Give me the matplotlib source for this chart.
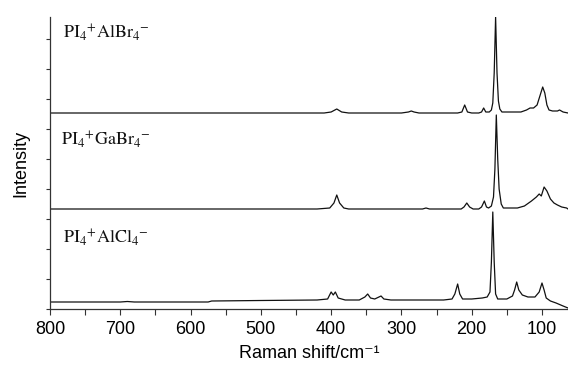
import matplotlib
matplotlib.use("Agg")
import matplotlib.pyplot as plt
import numpy as np

# Spectra: (Raman shift / cm-1, intensity above each trace's baseline, arbitrary units)
albr4_x = [800, 700, 600, 500, 410, 400, 392, 385, 375, 300, 290, 286, 282, 275,
           220, 214, 210, 206, 200, 190, 186, 183, 180, 175, 172, 170, 168, 166, 164,
           162, 160, 157, 130, 122, 117, 112, 107, 103, 99, 96, 93, 90, 85, 78, 75, 70, 63]
albr4_y = [0, 0, 0, 0, 0, 1, 4, 1, 0, 0, 1, 2, 1, 0,
           0, 1, 8, 1, 0, 0, 1, 5, 1, 1, 3, 10, 40, 96, 40,
           12, 4, 1, 1, 3, 5, 5, 8, 17, 26, 20, 8, 3, 2, 2, 3, 1, 0]

gabr4_x = [800, 700, 600, 500, 420, 402, 396, 392, 388, 382, 375, 270, 265, 260,
           215, 211, 207, 203, 198, 190, 186, 182, 179, 176, 172, 169, 167, 165, 163,
           161, 158, 155, 135, 125, 115, 108, 104, 101, 97, 93, 88, 83, 78, 72, 65, 63]
gabr4_y = [0, 0, 0, 0, 0, 1, 6, 14, 6, 1, 0, 0, 1, 0,
           0, 2, 6, 2, 0, 0, 2, 8, 2, 1, 3, 12, 40, 94, 50,
           20, 5, 1, 1, 3, 8, 12, 15, 13, 22, 18, 10, 6, 4, 2, 1, 0]

alcl4_x = [800, 700, 690, 680, 600, 575, 570, 500, 420, 405, 400, 397, 394, 390,
           380, 360, 352, 348, 344, 338, 332, 329, 325, 315, 240, 228, 224, 220,
           217, 213, 200, 185, 178, 174, 172, 170, 168, 166, 163, 150, 142, 139,
           136, 133, 128, 120, 110, 104, 100, 97, 94, 88, 80, 70, 63]
alcl4_y = [0, 0, 0.5, 0, 0, 0, 1, 1.5, 2, 3, 10, 7, 10, 4,
           2, 2, 5, 8, 4, 3, 5, 6, 3, 2, 2, 3, 8, 18,
           8, 3, 3, 4, 5, 10, 40, 90, 40, 8, 3, 3, 6, 12,
           20, 12, 7, 5, 5, 10, 19, 12, 4, 1, -1, -4, -6]

names = ["PI$_4$$^{+}$AlBr$_4$$^{-}$", "PI$_4$$^{+}$GaBr$_4$$^{-}$", "PI$_4$$^{+}$AlCl$_4$$^{-}$"]
offsets = [196, 100, 7]
xticks = [800, 700, 600, 500, 400, 300, 200, 100]

plt.rcParams['mathtext.fontset'] = 'stix'

fig = plt.figure(figsize=(5.68, 3.68), dpi=100)
ax = fig.add_axes([50 / 568, 59 / 368, 518 / 568, 292 / 368])

series = [(albr4_x, albr4_y), (gabr4_x, gabr4_y), (alcl4_x, alcl4_y)]
for (xs, ys), off in zip(series, offsets):
    ax.plot(xs, np.array(ys) + off, color='#111111', lw=0.9)

label_pos = [(63, 38), (61, 145), (63, 243)]  # pixel positions (left, baseline)
for name, (px, py) in zip(names, label_pos):
    fig.text(px / 568, 1 - py / 368, name, fontsize=13, family='STIXGeneral',
             ha='left', va='baseline', color='#111111')

ax.set_xlim(800, 63)
ax.set_ylim(0, 292)
ax.set_xticks(xticks)
ax.set_xticks(np.arange(750, 60, -100), minor=True)
ax.set_xticklabels([str(t) for t in xticks], fontsize=13, family=['Liberation Sans', 'DejaVu Sans'])
ax.set_yticks(np.arange(0, 292, 30))
ax.set_yticklabels([])
ax.tick_params(axis='x', which='both', direction='out', length=4, width=0.8, pad=5, color='#333333')
ax.tick_params(axis='y', direction='out', length=3, width=0.8, color='#333333')

for s in ['top', 'right']:
    ax.spines[s].set_visible(False)
for s in ['left', 'bottom']:
    ax.spines[s].set_linewidth(0.9)
    ax.spines[s].set_color('#333333')

ax.set_xlabel('Raman shift/cm\u207b\u00b9', fontsize=13, family=['Liberation Sans', 'DejaVu Sans'], labelpad=5)
ax.set_ylabel('Intensity', fontsize=13, family=['Liberation Sans', 'DejaVu Sans'], labelpad=8)

fig.savefig('out.png', dpi=100)
